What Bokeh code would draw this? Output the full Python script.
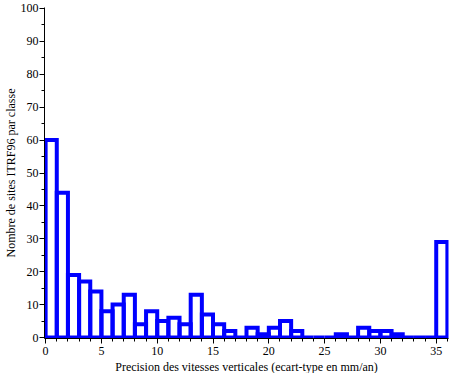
from bokeh.plotting import figure
from bokeh.models import Range1d, SingleIntervalTicker, ColumnDataSource, Title
from bokeh.embed import file_html
from bokeh.resources import INLINE

# Histogram classes (1 mm/an wide) and number of sites per class
bin_left = [0, 1, 2, 3, 4, 5, 6, 7, 8, 9, 10, 11, 12, 13, 14, 15, 16, 17,
            18, 19, 20, 21, 22, 23, 24, 25, 26, 27, 28, 29, 30, 31, 32, 33, 34, 35]
bin_right = [1, 2, 3, 4, 5, 6, 7, 8, 9, 10, 11, 12, 13, 14, 15, 16, 17, 18,
             19, 20, 21, 22, 23, 24, 25, 26, 27, 28, 29, 30, 31, 32, 33, 34, 35, 36]
counts = [60, 44, 19, 17, 14, 8, 10, 13, 4, 8, 5, 6, 4, 13, 7, 4, 2, 0,
          3, 1, 3, 5, 2, 0, 0, 0, 1, 0, 3, 2, 2, 1, 0, 0, 0, 29]

x_label = "Precision des vitesses verticales (ecart-type en mm/an)"
y_label = "Nombre de sites ITRF96 par classe"

FONT = "Liberation Serif"

source = ColumnDataSource(dict(left=bin_left, right=bin_right, top=counts,
                               bottom=[0] * len(counts)))

p = figure(width=449, height=373, output_backend="svg", toolbar_location=None,
           x_range=Range1d(-0.1, 36.1), y_range=Range1d(-0.3, 100.3),
           min_border_left=0, min_border_right=1, min_border_top=7, min_border_bottom=0)

p.quad(left="left", right="right", top="top", bottom="bottom", source=source,
       fill_alpha=0, line_color="#0000ff", line_width=4, line_join="miter")

p.xgrid.visible = False
p.ygrid.visible = False
p.outline_line_color = None
p.background_fill_color = "white"
p.border_fill_color = "white"

p.xaxis.ticker = SingleIntervalTicker(interval=5, num_minor_ticks=5)
p.yaxis.ticker = SingleIntervalTicker(interval=10, num_minor_ticks=2)

for ax in (p.xaxis[0], p.yaxis[0]):
    ax.axis_line_color = "black"
    ax.axis_line_width = 1
    ax.major_tick_line_color = "black"
    ax.minor_tick_line_color = "black"
    ax.major_tick_in = 0
    ax.minor_tick_in = 0
    ax.major_tick_out = 5
    ax.minor_tick_out = 3
    ax.major_label_text_font = FONT
    ax.major_label_text_font_size = "12px"
    ax.major_label_text_color = "black"
    ax.axis_label_text_font = FONT
    ax.axis_label_text_font_size = "12px"
    ax.axis_label_text_font_style = "normal"
    ax.axis_label_text_color = "black"

p.xaxis.major_label_standoff = 3
p.yaxis.major_label_standoff = 1
p.yaxis.axis_label_standoff = 0
p.yaxis.axis_label = y_label

xt = Title(text=x_label, align="center", text_font=FONT, text_font_size="12px",
           text_font_style="normal", text_color="black", standoff=0, offset=0)
p.add_layout(xt, "below")

open("out.html", "w").write(file_html(p, INLINE))
